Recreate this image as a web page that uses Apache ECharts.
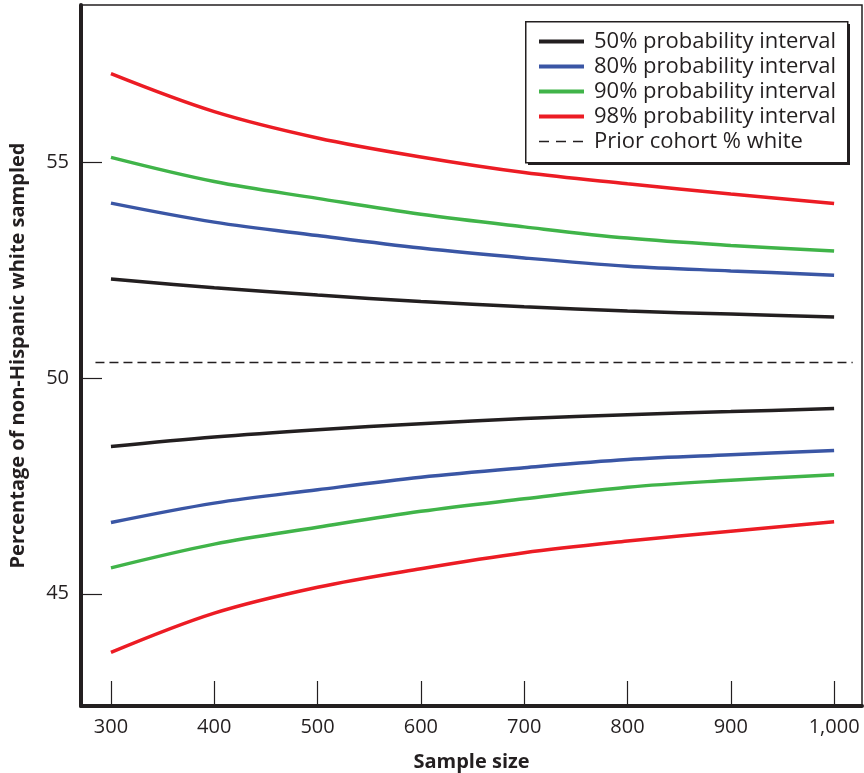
<!DOCTYPE html>
<html>
<head>
<meta charset="utf-8">
<script src="https://cdn.jsdelivr.net/npm/echarts@6/dist/echarts.min.js"></script>
<style>
  html, body { margin: 0; padding: 0; background: #fff; }
  #chart { width: 864px; height: 773px; }
</style>
</head>
<body>
<div id="chart"></div>
<script>
    // sample sizes read at each tick
    var sampleSizes = [300, 400, 500, 600, 700, 800, 900, 1000];

    var upper50 = [52.29, 52.09, 51.92, 51.77, 51.65, 51.55, 51.48, 51.41];
    var lower50 = [48.41, 48.63, 48.80, 48.94, 49.06, 49.15, 49.22, 49.29];
    var upper80 = [54.05, 53.61, 53.30, 53.01, 52.78, 52.59, 52.48, 52.38];
    var lower80 = [46.65, 47.10, 47.41, 47.70, 47.92, 48.11, 48.22, 48.32];
    var upper90 = [55.11, 54.55, 54.16, 53.79, 53.50, 53.24, 53.07, 52.94];
    var lower90 = [45.60, 46.15, 46.54, 46.91, 47.20, 47.47, 47.63, 47.76];
    var upper98 = [57.05, 56.17, 55.56, 55.12, 54.76, 54.50, 54.26, 54.04];
    var lower98 = [43.64, 44.55, 45.15, 45.58, 45.95, 46.22, 46.45, 46.67];

    // dashed reference line (prior cohort)
    var priorX = [285, 1018];
    var priorValue = 50.36;

    var xTicks = [300, 400, 500, 600, 700, 800, 900, 1000];
    var yTicks = [45, 50, 55];

    var legendNames = ['50% probability interval', '80% probability interval',
        '90% probability interval', '98% probability interval', 'Prior cohort % white'];

    var ink = '#231f20';
    var fontFamily = '"Open Sans", "Noto Sans", sans-serif';

    function pairs(xs, ys) {
        return xs.map(function (x, i) { return [x, ys[i]]; });
    }

    function band(name, color, values) {
        return {
            name: name,
            type: 'line',
            data: pairs(sampleSizes, values),
            smooth: 0.35,
            symbol: 'none',
            lineStyle: { color: color, width: 3.5 },
            itemStyle: { color: color },
            emphasis: { disabled: true }
        };
    }

    var chart = echarts.init(document.getElementById('chart'));

    var option = {
        animation: false,
        textStyle: { fontFamily: fontFamily },
        grid: {
            left: 81, right: 2, top: 5, bottom: 67,
            outerBoundsMode: 'none',
            containLabel: false,
            show: true, borderColor: ink, borderWidth: 1.5
        },
        // legend frame with hard drop shadow
        graphic: [
            { type: 'rect', left: 528, top: 24, z: 3, shape: { width: 322, height: 141 }, style: { fill: ink } },
            { type: 'rect', left: 525, top: 21, z: 3, shape: { width: 322, height: 141 }, style: { fill: '#fff', stroke: ink, lineWidth: 1.5 } }
        ],
        legend: {
            z: 6,
            data: legendNames.map(function (n, i) {
                return i === 4
                    ? { name: n, lineStyle: { width: 1.5, type: [10, 7] } }
                    : { name: n };
            }),
            orient: 'vertical',
            left: 525, top: 21,
            itemWidth: 45, itemHeight: 14, itemGap: 0,
            padding: [8, 14, 9, 12],
            selectedMode: false,
            itemStyle: { opacity: 0 },
            lineStyle: { width: 4 },
            textStyle: { color: ink, fontSize: 22, lineHeight: 25, padding: [0, 0, 0, 5], fontFamily: fontFamily }
        },
        xAxis: {
            type: 'value',
            min: 271, max: 1027,
            name: 'Sample size',
            nameLocation: 'middle',
            nameGap: 46,
            nameTextStyle: { color: ink, fontSize: 20, fontWeight: 'bold', fontFamily: fontFamily },
            axisLine: { show: true, lineStyle: { color: ink, width: 4 } },
            axisTick: { show: true, inside: true, length: 25, customValues: xTicks, lineStyle: { color: ink, width: 1.2 } },
            axisLabel: {
                customValues: xTicks, color: ink, fontSize: 20, margin: 11,
                formatter: function (v) { return v >= 1000 ? v.toLocaleString('en-US') : String(v); }
            },
            splitLine: { show: false }
        },
        yAxis: {
            type: 'value',
            min: 42.4, max: 58.64,
            name: 'Percentage of non-Hispanic white sampled',
            nameLocation: 'middle',
            nameGap: 53,
            nameTextStyle: { color: ink, fontSize: 20, fontWeight: 'bold', fontFamily: fontFamily },
            axisLine: { show: true, lineStyle: { color: ink, width: 4 } },
            axisTick: { show: true, inside: true, length: 21, customValues: yTicks, lineStyle: { color: ink, width: 1.2 } },
            axisLabel: { customValues: yTicks, color: ink, fontSize: 20, margin: 12 },
            splitLine: { show: false }
        },
        series: [
            band(legendNames[0], ink, upper50),
            band(legendNames[0], ink, lower50),
            band(legendNames[1], '#3a56a5', upper80),
            band(legendNames[1], '#3a56a5', lower80),
            band(legendNames[2], '#40b449', upper90),
            band(legendNames[2], '#40b449', lower90),
            band(legendNames[3], '#ec1c24', upper98),
            band(legendNames[3], '#ec1c24', lower98),
            {
                name: legendNames[4],
                type: 'line',
                data: pairs(priorX, [priorValue, priorValue]),
                symbol: 'none',
                lineStyle: { color: ink, width: 1.5, type: [9, 5] },
                itemStyle: { color: ink },
                emphasis: { disabled: true }
            }
        ]
    };

    chart.setOption(option);
</script>
</body>
</html>
